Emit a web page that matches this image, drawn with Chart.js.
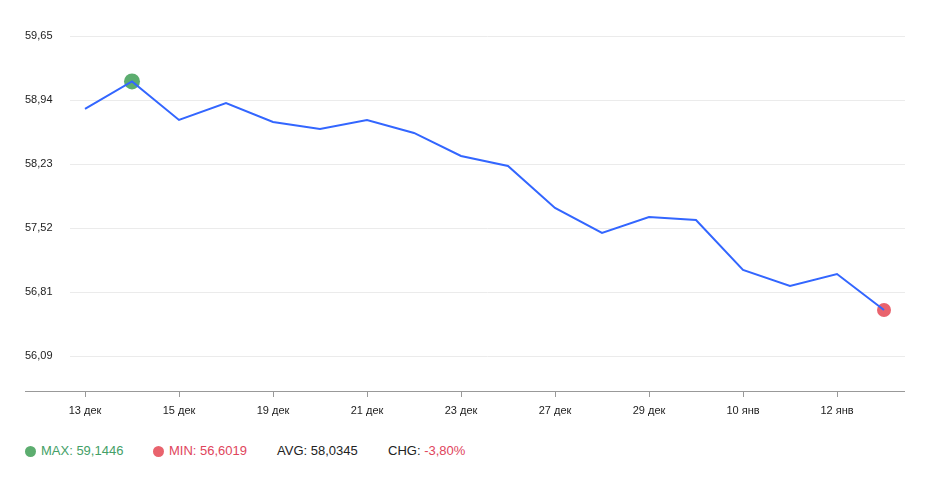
<!DOCTYPE html>
<html lang="ru">
<head>
    <meta charset="UTF-8">
    <title>Курс</title>
    <script src="https://cdn.jsdelivr.net/npm/chart.js"></script>
    <style>
        body { margin: 0; background: #fff; font-family: "Liberation Sans", Arial, sans-serif; }
        .wrap { position: relative; width: 933px; height: 430px; }
        .stats { display: flex; align-items: center; margin-top: 13px; padding-left: 25px; font-size: 13px; line-height: 16px; color: #222; }
        .stats .item { display: flex; align-items: center; }
        .dot { display: inline-block; width: 11px; height: 11px; border-radius: 50%; margin-right: 5px; }
        .green { color: #44a067; }
        .red { color: #e0455c; }
    </style>
</head>
<body>
    <div class="wrap"><canvas id="rateChart"></canvas></div>
    <div class="stats">
        <span class="item" style="width:128px"><span class="dot" style="background:#5cad6f"></span><span class="green" id="maxText"></span></span>
        <span class="item" style="width:124px"><span class="dot" style="background:#e9636d"></span><span class="red" id="minText"></span></span>
        <span class="item" style="width:111px" id="avgText"></span>
        <span class="item">CHG:&nbsp;<span class="red" id="chgText"></span></span>
    </div>

    <script>
        // data
        const dates = ['13 дек', '14 дек', '15 дек', '16 дек', '19 дек', '20 дек', '21 дек', '22 дек', '23 дек',
                       '24 дек', '27 дек', '28 дек', '29 дек', '30 дек', '10 янв', '11 янв', '12 янв', '13 янв'];
        const rates = [58.840, 59.1446, 58.716, 58.905, 58.693, 58.615, 58.715, 58.571, 58.315,
                       58.204, 57.737, 57.458, 57.636, 57.603, 57.047, 56.869, 57.002, 56.6019];
        const yTicks = [56.09, 56.802, 57.514, 58.226, 58.938, 59.65];
        const yTickLabels = ['56,09', '56,81', '57,52', '58,23', '58,94', '59,65'];
        const avgValue = '58,0345';
        const chgValue = '-3,80%';

        const maxVal = Math.max(...rates);
        const minVal = Math.min(...rates);
        const maxIdx = rates.indexOf(maxVal);
        const minIdx = rates.indexOf(minVal);
        const fmt = v => v.toFixed(4).replace('.', ',');

        document.getElementById('maxText').textContent = 'MAX: ' + fmt(maxVal);
        document.getElementById('minText').textContent = 'MIN: ' + fmt(minVal);
        document.getElementById('avgText').textContent = 'AVG: ' + avgValue;
        document.getElementById('chgText').textContent = chgValue;

        // grid lines + axis line like the original (a bit inset from the plot edges)
        const gridPlugin = {
            id: 'customGrid',
            beforeDatasetsDraw(chart) {
                const ctx = chart.ctx;
                const y = chart.scales.y;
                const area = chart.chartArea;
                ctx.save();
                ctx.strokeStyle = '#ebebeb';
                ctx.lineWidth = 1;
                y.ticks.forEach(t => {
                    const py = Math.round(y.getPixelForValue(t.value)) + 0.5;
                    ctx.beginPath();
                    ctx.moveTo(area.left + 8.5, py);
                    ctx.lineTo(area.right - 2.5, py);
                    ctx.stroke();
                });
                ctx.strokeStyle = '#999';
                const by = Math.round(area.bottom) + 0.5;
                ctx.beginPath();
                ctx.moveTo(y.left, by);
                ctx.lineTo(area.right - 2.5, by);
                ctx.stroke();
                ctx.restore();
            }
        };

        const ctx = document.getElementById('rateChart').getContext('2d');
        new Chart(ctx, {
            type: 'line',
            data: {
                labels: dates,
                datasets: [
                    {
                        data: rates,
                        borderColor: '#3366ff',
                        borderWidth: 2,
                        pointRadius: 0,
                        tension: 0,
                        order: 1
                    },
                    {
                        data: rates,
                        showLine: false,
                        pointRadius: rates.map((v, i) => i === maxIdx ? 8 : (i === minIdx ? 7 : 0)),
                        pointBackgroundColor: rates.map((v, i) => i === maxIdx ? '#5cad6f' : '#e9636d'),
                        pointBorderWidth: 0,
                        order: 2
                    }
                ]
            },
            options: {
                responsive: true,
                maintainAspectRatio: false,
                animation: false,
                layout: { padding: { top: 36, left: 25, right: 25.5, bottom: 9 } },
                plugins: { legend: { display: false }, tooltip: { enabled: false } },
                scales: {
                    x: {
                        offset: true,
                        afterBuildTicks: s => { s.ticks = s.ticks.filter((t, i) => i % 2 === 0); },
                        afterFit: s => { s.height = 30; },
                        border: { display: false },
                        grid: { display: true, drawOnChartArea: false, drawTicks: true, tickLength: 6, color: '#999' },
                        ticks: {
                            autoSkip: false,
                            maxRotation: 0,
                            padding: 7,
                            color: '#222',
                            font: { family: 'Liberation Sans', size: 11 }
                        }
                    },
                    y: {
                        min: 55.70,
                        max: 59.65,
                        afterBuildTicks: s => { s.ticks = yTicks.map(v => ({ value: v })); },
                        afterFit: s => { s.width = 36.5; },
                        border: { display: false },
                        grid: { display: false },
                        ticks: {
                            crossAlign: 'far',
                            padding: 0,
                            color: '#222',
                            font: { family: 'Liberation Sans', size: 11 },
                            callback: (v) => yTickLabels[yTicks.indexOf(v)]
                        }
                    }
                }
            },
            plugins: [gridPlugin]
        });
    </script>
</body>
</html>
